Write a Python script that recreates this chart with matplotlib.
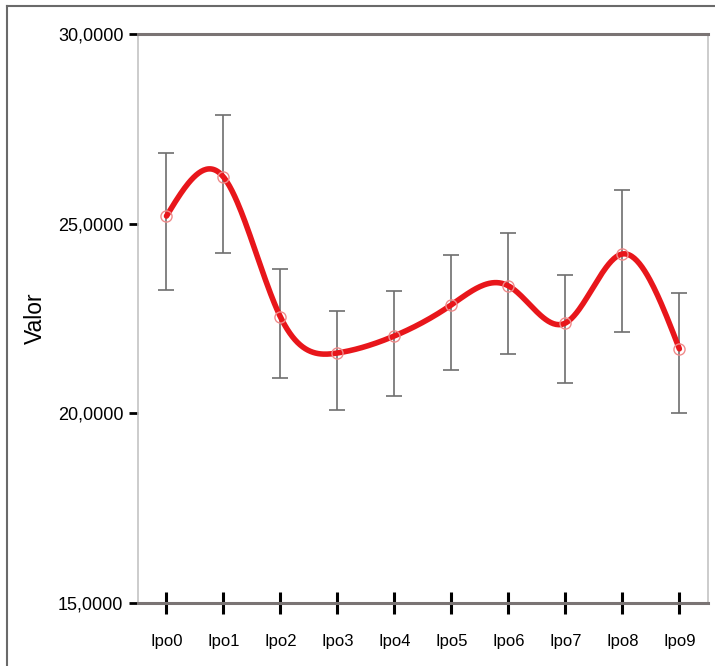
import numpy as np
import matplotlib
matplotlib.use('Agg')
import matplotlib.pyplot as plt
from matplotlib.lines import Line2D
from matplotlib.ticker import FuncFormatter

plt.rcParams['font.family'] = ['Liberation Sans', 'DejaVu Sans']

categories = ['Ipo0', 'Ipo1', 'Ipo2', 'Ipo3', 'Ipo4', 'Ipo5', 'Ipo6', 'Ipo7', 'Ipo8', 'Ipo9']
means = [25.20, 26.23, 22.54, 21.59, 22.04, 22.86, 23.36, 22.38, 24.20, 21.70]
upper = [26.86, 27.86, 23.80, 22.70, 23.22, 24.17, 24.75, 23.65, 25.89, 23.17]
lower = [23.25, 24.23, 20.93, 20.09, 20.46, 21.14, 21.56, 20.80, 22.14, 20.01]
y_ticks = [15, 20, 25, 30]


def natural_spline(x, y, n_fine=400):
    # natural cubic spline, like SPSS "spline" interpolation
    x = np.asarray(x, dtype=float)
    y = np.asarray(y, dtype=float)
    n = len(x)
    h = np.diff(x)
    A = np.zeros((n, n))
    b = np.zeros(n)
    A[0, 0] = 1
    A[-1, -1] = 1
    for i in range(1, n - 1):
        A[i, i - 1] = h[i - 1]
        A[i, i] = 2 * (h[i - 1] + h[i])
        A[i, i + 1] = h[i]
        b[i] = 3 * ((y[i + 1] - y[i]) / h[i] - (y[i] - y[i - 1]) / h[i - 1])
    c = np.linalg.solve(A, b)
    xs = np.linspace(x[0], x[-1], n_fine)
    ys = np.empty_like(xs)
    for k, xv in enumerate(xs):
        i = min(np.searchsorted(x, xv, side='right') - 1, n - 2)
        bi = (y[i + 1] - y[i]) / h[i] - h[i] * (2 * c[i] + c[i + 1]) / 3
        di = (c[i + 1] - c[i]) / (3 * h[i])
        t = xv - x[i]
        ys[k] = y[i] + bi * t + c[i] * t ** 2 + di * t ** 3
    return xs, ys


x = np.arange(len(categories))
means_arr = np.array(means)
yerr = [means_arr - np.array(lower), np.array(upper) - means_arr]

fig = plt.figure(figsize=(7.15, 6.66), dpi=100)
ax = fig.add_axes([0.193, 0.0946, 0.797, 0.8544])

ax.errorbar(x, means, yerr=yerr, fmt='none', ecolor='#6e6e6e',
            elinewidth=1.2, capsize=5.8, capthick=1.2, zorder=2)

xs, ys = natural_spline(x, means)
ax.plot(xs, ys, color='#e8161b', lw=4.0, solid_capstyle='round', zorder=3)
ax.plot(x, means, linestyle='none', marker='o', markersize=8,
        markerfacecolor='none', markeredgecolor='#f08a8a', markeredgewidth=1.0, zorder=4)

ax.set_xlim(-0.5, 9.5)
ax.set_ylim(15, 30)
ax.set_xticks(x)
ax.set_xticklabels(categories)
ax.set_yticks(y_ticks)
ax.yaxis.set_major_formatter(FuncFormatter(lambda v, p: f'{v:.4f}'.replace('.', ',')))

ax.tick_params(axis='y', direction='out', length=6.5, width=2.0, color='black',
               labelsize=13, pad=4)
ax.tick_params(axis='x', direction='inout', length=16.5, width=2.2, color='black',
               labelsize=12, pad=14)

for side in ['top', 'bottom']:
    ax.spines[side].set_color('#7a7474')
    ax.spines[side].set_linewidth(2.2)
for side in ['left', 'right']:
    ax.spines[side].set_color('#c4c4c4')
    ax.spines[side].set_linewidth(1.2)

ax.set_ylabel('Valor', fontsize=16.5)
ax.yaxis.set_label_coords(-0.16, 0.5)

# outer frame around the figure
fig.add_artist(Line2D([7 / 715, 7 / 715], [0, 1 - 6 / 666], color='#6a6a6a', lw=1.5,
                      transform=fig.transFigure))
fig.add_artist(Line2D([7 / 715, 1], [1 - 6 / 666, 1 - 6 / 666], color='#6a6a6a', lw=1.5,
                      transform=fig.transFigure))

fig.savefig('out.png', dpi=100)
